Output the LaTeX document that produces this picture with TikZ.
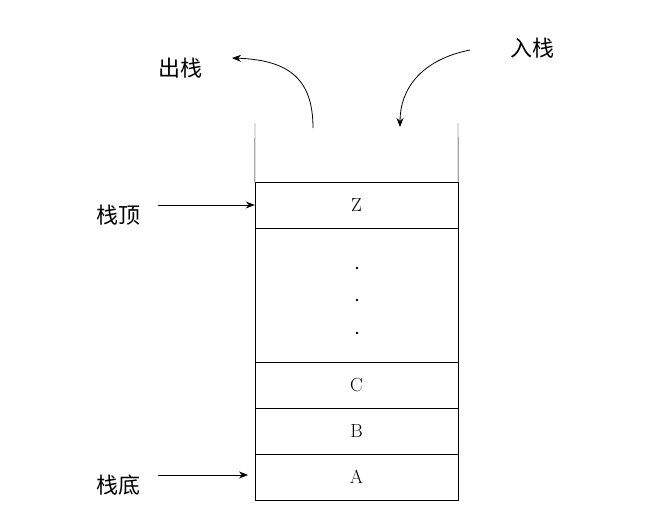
\documentclass[tikz,border=0pt]{standalone}
\usepackage{fontspec}
\newfontfamily\cjk{Noto Sans CJK SC}
\usetikzlibrary{arrows.meta}
\tikzset{
  cell/.style={draw, minimum width=203pt, inner sep=0pt, font=\fontsize{19}{19}\selectfont},
  lbl/.style={font=\cjk\fontsize{22}{22}\selectfont},
  arr/.style={-{Stealth[length=9pt,width=7pt]}, line width=0.8pt},
}
\begin{document}
\begin{tikzpicture}[x=1pt,y=-1pt]
\useasboundingbox (0,0) rectangle (665,520);

%% Stapel
\node[cell, minimum height=46pt] (a) at (356.5,477) {A};
\node[cell, minimum height=46pt] (b) at (356.5,431) {B};
\node[cell, minimum height=46pt] (c) at (356.5,385) {C};
\node[cell, minimum height=134pt] (dots) at (356.5,295) {};
\node[cell, minimum height=46pt] (z) at (356.5,205) {Z};
\draw (z.north west) -- (255,123);
\draw (z.north east) -- (458,123);
\foreach \y in {268,300,333}
  \fill (357,\y) circle (1.3pt);

%% Labels
\node[lbl] (push) at (532,48) {入栈};
\node[lbl] (pop) at (180,68) {出栈};
\node[lbl] (top) at (118,215) {栈顶};
\node[lbl] (bottom) at (118,485) {栈底};

\draw[arr] (470,50) .. controls (420,60) and (400,90) .. (400,127);
\draw[arr] (313,128) .. controls (313,80) and (290,60) .. (232,58);
\draw[arr] (158,205) -- (z.west);
\draw[arr] (158,475) -- (248,475);

\end{tikzpicture}
\end{document}
